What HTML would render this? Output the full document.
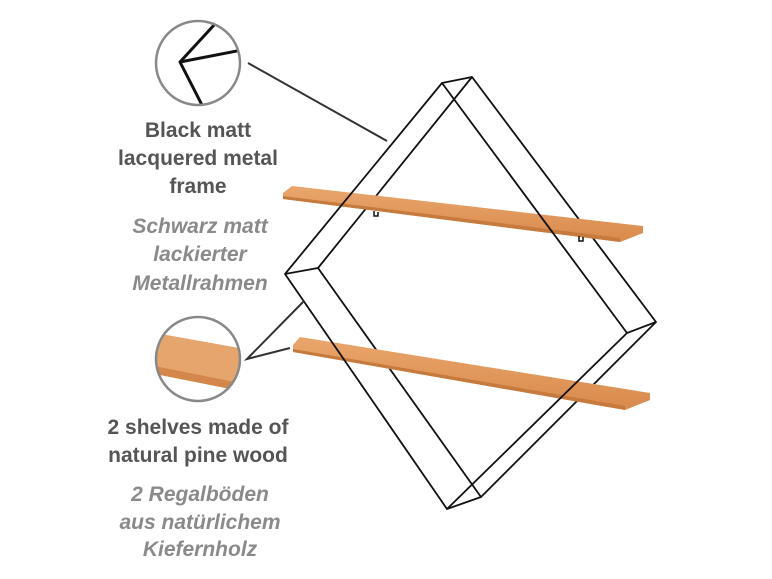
<!DOCTYPE html>
<html><head><meta charset="utf-8"><style>
body{margin:0;background:#fff;}
svg{display:block}
.b{font-family:"Liberation Sans Narrow","Liberation Sans",sans-serif;font-weight:bold;font-size:21px;fill:#555;}
.i{font-family:"Liberation Sans Narrow","Liberation Sans",sans-serif;font-weight:bold;font-style:italic;font-size:21px;fill:#8a8a8a;}
</style></head><body>
<svg width="772" height="579" viewBox="0 0 772 579" xmlns="http://www.w3.org/2000/svg">
<defs>
<linearGradient id="w" x1="0" y1="0" x2="0" y2="1">
<stop offset="0" stop-color="#e9a66c"/><stop offset="1" stop-color="#d98a4c"/>
</linearGradient>
<clipPath id="c1"><circle cx="198" cy="63" r="42"/></clipPath>
<clipPath id="c2"><circle cx="198" cy="359" r="42"/></clipPath>
</defs>
<!-- back diamond -->
<g fill="none" stroke="#111" stroke-width="1.8" stroke-linejoin="round">
<polygon points="472,77 656,322 481,497 318,268"/>
</g>
<!-- shelves -->
<polygon points="292,186 643,226 643,233 620,242 283,199 283,193" fill="url(#w)"/>
<polygon points="283,196 620,238 620,242 283,199" fill="#c77a3e"/>
<polygon points="300,337 650,393 650,400 625,410 293,352 293,345" fill="url(#w)"/>
<polygon points="293,349 625,406 625,410 293,352" fill="#c77a3e"/>
<g fill="none" stroke="#111" stroke-width="1.5">
<path d="M374,211 v5 h4 v-4"/><path d="M579,236 v5 h4 v-4"/>
</g>
<!-- front diamond + connectors -->
<g fill="none" stroke="#111" stroke-width="1.8" stroke-linejoin="round">
<polygon points="442,83 627,333 447,509 285,274"/>
<line x1="442" y1="83" x2="472" y2="77"/>
<line x1="285" y1="274" x2="318" y2="268"/>
<line x1="627" y1="333" x2="656" y2="322"/>
<line x1="447" y1="509" x2="481" y2="497"/>
</g>
<!-- pointer lines -->
<g stroke="#333" stroke-width="2" fill="none">
<line x1="248" y1="63" x2="387" y2="141"/>
<polyline points="304,301 247,359 290,348"/>
</g>
<!-- circle 1 -->
<g clip-path="url(#c1)">
<rect x="150" y="15" width="100" height="100" fill="#fff"/>
<polyline points="215,24 180,62 203,107" fill="none" stroke="#111" stroke-width="3" stroke-linejoin="round"/>
<line x1="180" y1="62" x2="242" y2="50" stroke="#111" stroke-width="3"/>
</g>
<circle cx="198" cy="63" r="42" fill="none" stroke="#888" stroke-width="2.5"/>
<!-- circle 2 -->
<g clip-path="url(#c2)">
<rect x="150" y="310" width="100" height="100" fill="#fff"/>
<polygon points="155,333 245,349 245,392 155,372" fill="#e6a56d"/>
<polygon points="155,366 245,384 245,392 155,374" fill="#d4874a"/>
</g>
<circle cx="198" cy="359" r="42" fill="none" stroke="#888" stroke-width="2.5"/>
<!-- text -->
<g text-anchor="middle">
<text class="b" x="198" y="137">Black matt</text>
<text class="b" x="198" y="165">lacquered metal</text>
<text class="b" x="198" y="193">frame</text>
<text class="i" x="200" y="233">Schwarz matt</text>
<text class="i" x="200" y="261">lackierter</text>
<text class="i" x="200" y="290">Metallrahmen</text>
<text class="b" x="198" y="434">2 shelves made of</text>
<text class="b" x="198" y="462">natural pine wood</text>
<text class="i" x="200" y="501">2 Regalböden</text>
<text class="i" x="200" y="529">aus natürlichem</text>
<text class="i" x="200" y="556">Kiefernholz</text>
</g>
</svg>
</body></html>
